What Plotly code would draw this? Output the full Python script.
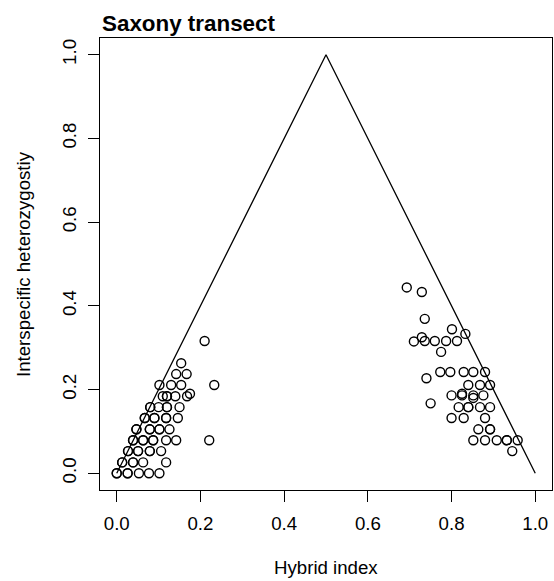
import plotly.graph_objects as go

# Hybrid index and interspecific heterozygosity of individuals
hybrid_index = [
    # left cluster
    0.000, 0.000, 0.026, 0.026, 0.053, 0.077, 0.102,
    0.013, 0.013, 0.039, 0.039, 0.063, 0.118,
    0.027, 0.027, 0.051, 0.051, 0.079, 0.079, 0.106,
    0.039, 0.039, 0.063, 0.063, 0.087, 0.087, 0.118, 0.142, 0.221,
    0.047, 0.047, 0.079, 0.079, 0.102, 0.102, 0.126,
    0.067, 0.067, 0.090, 0.090, 0.118, 0.118, 0.146,
    0.080, 0.080, 0.100, 0.120, 0.120, 0.150,
    0.110, 0.120, 0.120, 0.140, 0.168, 0.175,
    0.102, 0.130, 0.154, 0.233,
    0.142, 0.167,
    0.154,
    0.210,
    # right cluster
    0.693, 0.729, 0.736,
    0.710, 0.729, 0.736, 0.760, 0.787, 0.813,
    0.801, 0.833, 0.775,
    0.773, 0.797, 0.829, 0.852, 0.880, 0.740,
    0.840, 0.868, 0.892,
    0.800, 0.825, 0.825, 0.852, 0.852, 0.876,
    0.750, 0.817, 0.840, 0.840, 0.868, 0.892,
    0.800, 0.829, 0.880,
    0.864, 0.892, 0.892,
    0.852, 0.880, 0.908, 0.932, 0.932, 0.958,
    0.945,
]
heterozygosity = [
    0.000, 0.000, 0.000, 0.000, 0.000, 0.000, 0.000,
    0.026, 0.026, 0.026, 0.026, 0.026, 0.026,
    0.053, 0.053, 0.053, 0.053, 0.053, 0.053, 0.053,
    0.079, 0.079, 0.079, 0.079, 0.079, 0.079, 0.079, 0.079, 0.079,
    0.105, 0.105, 0.105, 0.105, 0.105, 0.105, 0.105,
    0.132, 0.132, 0.132, 0.132, 0.132, 0.132, 0.132,
    0.158, 0.158, 0.158, 0.158, 0.158, 0.158,
    0.184, 0.184, 0.184, 0.184, 0.184, 0.190,
    0.211, 0.211, 0.211, 0.211,
    0.237, 0.237,
    0.263,
    0.316,
    0.444, 0.433, 0.369,
    0.315, 0.325, 0.316, 0.316, 0.316, 0.316,
    0.344, 0.333, 0.290,
    0.242, 0.242, 0.242, 0.242, 0.242, 0.227,
    0.211, 0.211, 0.211,
    0.186, 0.186, 0.190, 0.186, 0.180, 0.186,
    0.167, 0.158, 0.158, 0.158, 0.158, 0.158,
    0.132, 0.132, 0.132,
    0.105, 0.105, 0.105,
    0.079, 0.079, 0.079, 0.079, 0.079, 0.079,
    0.053,
]

# Triangle boundary of possible values
tri_x = [0.0, 0.5, 1.0]
tri_y = [0.0, 1.0, 0.0]

tick_vals = [0.0, 0.2, 0.4, 0.6, 0.8, 1.0]
tick_text = ["0.0", "0.2", "0.4", "0.6", "0.8", "1.0"]

FONT = "Liberation Sans, Arial, Helvetica, sans-serif"
FS = 18.67

fig = go.Figure()
fig.add_trace(go.Scatter(
    x=tri_x, y=tri_y, mode="lines",
    line=dict(color="black", width=1.3),
    hoverinfo="skip", showlegend=False,
))
fig.add_trace(go.Scatter(
    x=hybrid_index, y=heterozygosity, mode="markers",
    marker=dict(symbol="circle-open", size=9, color="black",
                line=dict(color="black", width=1.4)),
    showlegend=False,
))

axis_common = dict(
    tickvals=tick_vals, ticktext=tick_text,
    ticks="outside", ticklen=11, tickwidth=1.2, tickcolor="black",
    showline=True, mirror=True, linecolor="black", linewidth=1.3,
    showgrid=False, zeroline=False,
    tickfont=dict(family=FONT, size=FS, color="black"),
)

fig.update_layout(
    width=554, height=581,
    margin=dict(l=100, r=2, t=38, b=91),
    paper_bgcolor="white", plot_bgcolor="white",
    font=dict(family=FONT, size=FS, color="black"),
    xaxis=dict(range=[-0.04, 1.04], ticklabelstandoff=5, **axis_common),
    yaxis=dict(range=[-0.04, 1.04], tickangle=-90, ticklabelstandoff=4, **axis_common),
    annotations=[
        dict(text="<b>Saxony transect</b>", xref="paper", yref="paper",
             x=0.0, y=1.0, xanchor="left", yanchor="bottom", yshift=0,
             showarrow=False, font=dict(family=FONT, size=22.4, color="black")),
        dict(text="Hybrid index", xref="paper", yref="paper",
             x=0.5, y=0.0, xanchor="center", yanchor="middle", yshift=-77,
             showarrow=False, font=dict(family=FONT, size=FS, color="black")),
        dict(text="Interspecific heterozygostiy", xref="paper", yref="paper",
             x=0.0, y=0.5, xanchor="center", yanchor="middle", xshift=-77,
             textangle=-90,
             showarrow=False, font=dict(family=FONT, size=FS, color="black")),
    ],
)

fig.write_html("out.html")
